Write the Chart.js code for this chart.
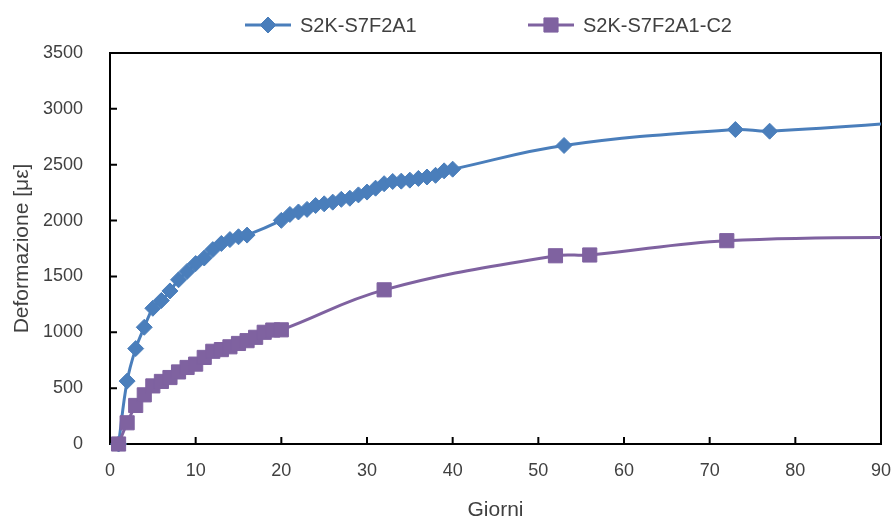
<!DOCTYPE html>
<html>
<head>
<meta charset="utf-8">
<script src="https://cdn.jsdelivr.net/npm/chart.js@4/dist/chart.umd.min.js"></script>
<style>
  html, body { margin: 0; padding: 0; background: #fff; }
</style>
</head>
<body>
<canvas id="chart" width="896" height="523"></canvas>
<script>
/* dati */
const seriesNames = ["S2K-S7F2A1", "S2K-S7F2A1-C2"];

const blueDays = [1, 2, 3, 4, 5, 6, 7, 8, 9, 10, 11, 12, 13, 14, 15, 16,
  20, 21, 22, 23, 24, 25, 26, 27, 28, 29, 30, 31, 32, 33, 34, 35, 36, 37, 38, 39, 40,
  53, 73, 77, 100];
const blueValues = [0, 563, 854, 1045, 1215, 1285, 1370, 1470, 1545, 1615, 1665, 1740, 1795, 1830, 1855, 1870,
  2002, 2055, 2077, 2100, 2135, 2150, 2165, 2190, 2200, 2230, 2255, 2290, 2330, 2350, 2353, 2362, 2377, 2390, 2405, 2445, 2460,
  2672, 2815, 2800, 2920];

const purpleDays = [1, 2, 3, 4, 5, 6, 7, 8, 9, 10, 11, 12, 13, 14, 15, 16, 17, 18, 19, 20,
  32, 52, 56, 72, 100];
const purpleValues = [0, 190, 345, 440, 520, 560, 595, 645, 685, 715, 775, 830, 845, 870, 900, 925, 955, 1000, 1020, 1022,
  1380, 1685, 1692, 1820, 1855];

const xTicks = { min: 0, max: 90, step: 10 };
const yTicks = { min: 0, max: 3500, step: 500 };

const BLUE = "#4a7ebb";
const PURPLE = "#7f62a0";
const TEXT = "#404040";
const FONT = "'Liberation Sans', Arial, sans-serif";

function toPoints(days, values) {
  return days.map((d, i) => ({ x: d, y: values[i] }));
}

/* cornice e tacche interne */
const framePlugin = {
  id: "frame",
  beforeDatasetsDraw(chart) {
    const { ctx, chartArea: a, scales: { x, y } } = chart;
    ctx.save();
    ctx.strokeStyle = "#000";
    ctx.lineWidth = 2;
    ctx.strokeRect(a.left, a.top, a.right - a.left, a.bottom - a.top);
    ctx.beginPath();
    x.ticks.forEach(t => {
      const px = x.getPixelForValue(t.value);
      ctx.moveTo(px, a.bottom);
      ctx.lineTo(px, a.bottom - 7);
    });
    y.ticks.forEach(t => {
      const py = y.getPixelForValue(t.value);
      ctx.moveTo(a.left, py);
      ctx.lineTo(a.left + 7, py);
    });
    ctx.stroke();
    ctx.restore();
  }
};

/* legenda con linea e marcatore */
const legendPlugin = {
  id: "lineLegend",
  afterDraw(chart) {
    const { ctx } = chart;
    const starts = [245, 528];
    const yMid = 25;
    ctx.save();
    chart.data.datasets.forEach((ds, i) => {
      const x0 = starts[i];
      ctx.strokeStyle = ds.borderColor;
      ctx.lineWidth = 3;
      ctx.beginPath();
      ctx.moveTo(x0, yMid);
      ctx.lineTo(x0 + 46, yMid);
      ctx.stroke();
      ctx.fillStyle = ds.backgroundColor;
      ctx.strokeStyle = ds.borderColor;
      ctx.lineWidth = 1;
      Chart.helpers.drawPoint(ctx, {
        pointStyle: ds.pointStyle,
        radius: ds.pointRadius,
        rotation: 0,
        borderWidth: 1
      }, x0 + 23, yMid);
      ctx.fillStyle = TEXT;
      ctx.font = "20px " + FONT;
      ctx.textBaseline = "middle";
      ctx.textAlign = "left";
      ctx.fillText(ds.label, x0 + 55, yMid + 1);
    });
    ctx.restore();
  }
};

new Chart(document.getElementById("chart"), {
  type: "scatter",
  data: {
    datasets: [
      {
        label: seriesNames[0],
        data: toPoints(blueDays, blueValues),
        showLine: true,
        borderColor: BLUE,
        backgroundColor: BLUE,
        borderWidth: 3,
        pointStyle: "rectRot",
        pointRadius: 8,
        pointBorderWidth: 1,
        tension: 0.4,
        order: 1,
        clip: { left: 12, top: 12, right: 0, bottom: 12 }
      },
      {
        label: seriesNames[1],
        data: toPoints(purpleDays, purpleValues),
        showLine: true,
        borderColor: PURPLE,
        backgroundColor: PURPLE,
        borderWidth: 3,
        pointStyle: "rect",
        pointRadius: 10,
        pointBorderWidth: 1,
        tension: 0.4,
        order: 0,
        clip: { left: 12, top: 12, right: 0, bottom: 12 }
      }
    ]
  },
  options: {
    responsive: false,
    animation: false,
    layout: { padding: { top: 53, right: 0, left: 0, bottom: 0 } },
    plugins: {
      legend: { display: false },
      tooltip: { enabled: false }
    },
    scales: {
      x: {
        type: "linear",
        min: xTicks.min,
        max: xTicks.max,
        grid: { display: false, drawTicks: false },
        border: { display: false },
        ticks: {
          stepSize: xTicks.step,
          padding: 16,
          color: TEXT,
          font: { family: FONT, size: 18 },
          callback: v => String(v)
        },
        title: {
          display: true,
          text: "Giorni",
          color: TEXT,
          font: { family: FONT, size: 21 },
          padding: { top: -4, bottom: 0 }
        },
        afterFit: s => { s.height = 79; s.paddingRight = 15; }
      },
      y: {
        min: yTicks.min,
        max: yTicks.max,
        grid: { display: false, drawTicks: false },
        border: { display: false },
        ticks: {
          stepSize: yTicks.step,
          padding: 27,
          color: TEXT,
          font: { family: FONT, size: 18 },
          callback: v => String(v)
        },
        title: {
          display: true,
          text: "Deformazione [με]",
          color: TEXT,
          font: { family: FONT, size: 21 },
          padding: { top: 10, bottom: 0 }
        },
        afterFit: s => { s.width = 110; }
      }
    }
  },
  plugins: [framePlugin, legendPlugin]
});
</script>
</body>
</html>
